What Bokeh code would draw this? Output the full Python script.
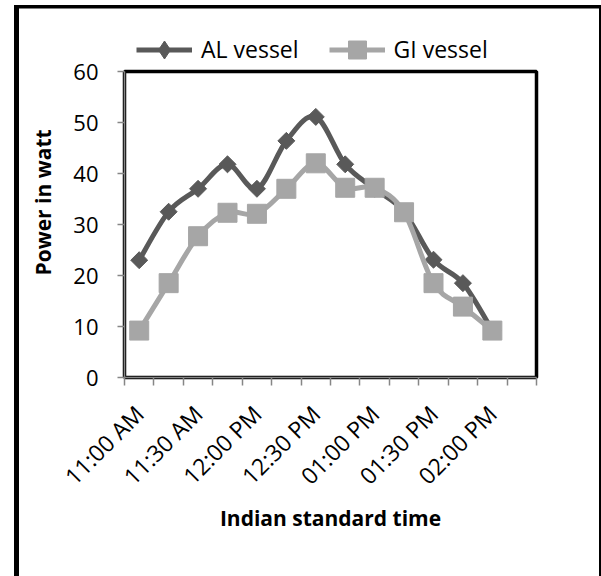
import numpy as np
from math import pi
from bokeh.plotting import figure
from bokeh.layouts import column
from bokeh.models import (FixedTicker, Legend, LegendItem, Range1d, Title,
                          ColumnDataSource)
from bokeh.embed import file_html
from bokeh.resources import INLINE

# ---- data ----
times = ["11:00 AM", "11:15 AM", "11:30 AM", "11:45 AM", "12:00 PM", "12:15 PM",
         "12:30 PM", "12:45 PM", "01:00 PM", "01:15 PM", "01:30 PM", "01:45 PM",
         "02:00 PM"]
al_vessel = [23.0, 32.5, 37.0, 41.8, 37.0, 46.4, 51.1, 41.8, 37.0, 32.5, 23.1, 18.5, 9.2]
gi_vessel = [9.2, 18.5, 27.7, 32.3, 32.1, 37.0, 42.0, 37.2, 37.2, 32.4, 18.5, 13.9, 9.2]
n_categories = 14
y_ticks = [0, 10, 20, 30, 40, 50, 60]
series_names = ["AL vessel", "GI vessel"]

AL_COLOR = "#595959"
GI_COLOR = "#A6A6A6"
AXIS_COLOR = "#868686"
FONT = "Open Sans"

x = np.arange(len(times), dtype=float)


def smooth_segments(xs, ys):
    """Bezier segments (Catmull-Rom style) through the data points."""
    xs = np.asarray(xs, float)
    ys = np.asarray(ys, float)
    n = len(xs)
    cols = {k: [] for k in ("x0", "y0", "x1", "y1", "cx0", "cy0", "cx1", "cy1")}
    for i in range(n - 1):
        pm = max(i - 1, 0)
        pp = min(i + 2, n - 1)
        cols["x0"].append(xs[i]); cols["y0"].append(ys[i])
        cols["x1"].append(xs[i + 1]); cols["y1"].append(ys[i + 1])
        cols["cx0"].append(xs[i] + (xs[i + 1] - xs[pm]) / 6.0)
        cols["cy0"].append(ys[i] + (ys[i + 1] - ys[pm]) / 6.0)
        cols["cx1"].append(xs[i + 1] - (xs[pp] - xs[i]) / 6.0)
        cols["cy1"].append(ys[i + 1] - (ys[pp] - ys[i]) / 6.0)
    return ColumnDataSource(cols)


LEG_H = 70
OVERLAP = 14

# ---------------- legend strip ----------------
lf = figure(width=601, height=LEG_H, output_backend="svg", toolbar_location=None,
            x_axis_type=None, y_axis_type=None, min_border=0,
            x_range=Range1d(-0.5, n_categories - 0.5), y_range=Range1d(0, 60))
lf.background_fill_alpha = 0
lf.border_fill_alpha = 0
lf.outline_line_color = None
lf.xgrid.visible = False
lf.ygrid.visible = False
# legend proxies (same series, not shown: only their legend swatches are drawn)
l_al_line = lf.line(x, al_vessel, line_color=AL_COLOR, line_width=5, visible=False)
l_al_mark = lf.scatter(x, al_vessel, marker="diamond", fill_color=AL_COLOR,
                       line_color=AL_COLOR, visible=False)
l_gi_line = lf.line(x, gi_vessel, line_color=GI_COLOR, line_width=5, visible=False)
l_gi_mark = lf.scatter(x, gi_vessel, marker="square", fill_color=GI_COLOR,
                       line_color=GI_COLOR, visible=False)
legend = Legend(items=[LegendItem(label=series_names[0], renderers=[l_al_line, l_al_mark]),
                       LegendItem(label=series_names[1], renderers=[l_gi_line, l_gi_mark])],
                orientation="horizontal", location=(12, -1.5),
                border_line_color=None, background_fill_alpha=0,
                inactive_fill_alpha=0,
                label_text_font=FONT, label_text_font_size="23px",
                label_text_color="black",
                glyph_width=56, glyph_height=45, label_standoff=9, spacing=30,
                padding=0, margin=0)
lf.add_layout(legend, "center")

# ---------------- main chart ----------------
p = figure(width=601, height=576 - LEG_H + OVERLAP, output_backend="svg",
           toolbar_location=None,
           x_range=Range1d(-0.5, n_categories - 0.5), y_range=Range1d(0, 60),
           min_border_left=124, min_border_right=65, min_border_top=15,
           min_border_bottom=199)
p.styles = {"margin-top": f"-{OVERLAP}px"}
p.background_fill_color = "white"
p.border_fill_alpha = 0
p.outline_line_color = "black"
p.outline_line_width = 3.5
p.xgrid.visible = False
p.ygrid.visible = False

al_line = p.bezier(x0="x0", y0="y0", x1="x1", y1="y1", cx0="cx0", cy0="cy0",
                   cx1="cx1", cy1="cy1", source=smooth_segments(x, al_vessel),
                   line_color=AL_COLOR, line_width=5)
al_mark = p.scatter(x, al_vessel, marker="square", angle=pi / 4, size=12,
                    fill_color=AL_COLOR, line_color=AL_COLOR)
gi_line = p.bezier(x0="x0", y0="y0", x1="x1", y1="y1", cx0="cx0", cy0="cy0",
                   cx1="cx1", cy1="cy1", source=smooth_segments(x, gi_vessel),
                   line_color=GI_COLOR, line_width=5)
gi_mark = p.scatter(x, gi_vessel, marker="square", size=19, fill_color=GI_COLOR,
                    line_color=GI_COLOR)

yax = p.yaxis[0]
yax.ticker = FixedTicker(ticks=y_ticks)
yax.axis_line_color = AXIS_COLOR
yax.axis_line_width = 1.5
yax.major_tick_line_color = AXIS_COLOR
yax.major_tick_line_width = 1.5
yax.major_tick_out = 7
yax.major_tick_in = 0
yax.minor_tick_line_color = None
yax.major_label_text_font = FONT
yax.major_label_text_font_size = "22px"
yax.major_label_text_color = "black"
yax.major_label_standoff = 19

xax = p.xaxis[0]
label_pos = list(range(0, len(times), 2))
xax.ticker = FixedTicker(ticks=label_pos,
                         minor_ticks=[i - 0.5 for i in range(n_categories + 1)])
xax.major_label_overrides = {i: times[i] for i in label_pos}
xax.major_label_orientation = pi / 4
xax.axis_line_color = AXIS_COLOR
xax.axis_line_width = 1.5
xax.major_tick_line_color = None
xax.major_tick_out = 0
xax.minor_tick_line_color = AXIS_COLOR
xax.minor_tick_line_width = 1.5
xax.minor_tick_out = 8
xax.minor_tick_in = 0
xax.major_label_text_font = FONT
xax.major_label_text_font_size = "23px"
xax.major_label_text_color = "black"
xax.major_label_standoff = 24
xax.axis_label = "Indian standard time"
xax.axis_label_text_font = FONT
xax.axis_label_text_font_style = "bold"
xax.axis_label_text_font_size = "21px"
xax.axis_label_text_color = "black"
xax.axis_label_standoff = -2

p.add_layout(Title(text="Power in watt", align="left", offset=102, standoff=28,
                   text_font=FONT, text_font_style="bold", text_font_size="21px",
                   text_color="black"), "left")

layout = column(lf, p, spacing=0)
layout.styles = {"box-shadow": "inset 14px 5px 0 0 white, inset 19px 8.5px 0 0 black, "
                               "inset -2px 0 0 0 black",
                 "background-color": "white"}

open("out.html", "w").write(file_html(layout, INLINE))
